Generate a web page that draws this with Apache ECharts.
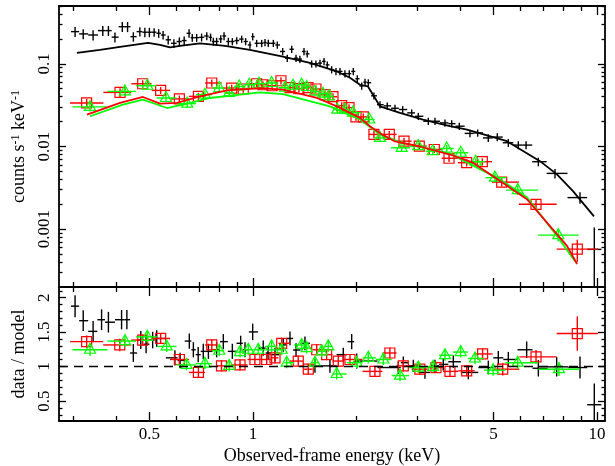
<!DOCTYPE html>
<html>
<head>
<meta charset="utf-8">
<script src="https://cdn.jsdelivr.net/npm/echarts@6/dist/echarts.min.js"></script>
<style>
  html, body { margin: 0; padding: 0; background: #fff; }
  #chart { width: 615px; height: 466px; }
</style>
</head>
<body>
<div id="chart"></div>
<script>
// ---- spectrum, top panel (energy keV / counts s-1 keV-1 / fractional error) ----
var blackE = [0.304,0.321,0.343,0.366,0.380,0.397,0.417,0.432,0.449,0.469,
  0.485,0.500,0.516,0.532,0.548,0.567,0.589,0.611,0.631,0.652,
  0.666,0.686,0.709,0.734,0.753,0.767,0.784,0.806,0.824,0.848,
  0.871,0.897,0.927,0.952,0.980,0.998,1.025,1.06,1.084,1.108,
  1.146,1.177,1.22,1.258,1.296,1.334,1.369,1.407,1.438,1.481,
  1.524,1.566,1.609,1.644,1.693,1.743,1.79,1.851,1.905,1.957,
  2.01,2.07,2.117,2.164,2.247,2.34,2.457,2.587,2.724,2.893,
  3.024,3.233,3.381,3.615,3.781,3.979,4.274,4.5,4.83,5.13,
  5.524,5.905,6.22,6.753,7.549,8.925,9.82];
var blackRate = [0.245,0.230,0.223,0.252,0.252,0.210,0.281,0.281,0.213,0.245,
  0.241,0.241,0.241,0.234,0.223,0.195,0.177,0.186,0.191,0.234,
  0.207,0.207,0.209,0.217,0.209,0.186,0.186,0.200,0.217,0.186,
  0.186,0.191,0.199,0.186,0.169,0.213,0.177,0.177,0.181,0.177,
  0.177,0.169,0.141,0.117,0.150,0.117,0.114,0.141,0.132,0.100,
  0.100,0.102,0.107,0.097,0.085,0.081,0.081,0.076,0.076,0.081,
  0.066,0.054,0.060,0.059,0.041,0.032,0.031,0.029,0.028,0.0255,
  0.0232,0.0202,0.0202,0.0193,0.0189,0.0176,0.0144,0.0146,0.0127,0.013,
  0.0111,0.0104,0.0104,0.00655,0.00473,0.00241,0.00057];
var blackErr = [0.14,0.14,0.14,0.14,0.14,0.14,0.14,0.14,0.13,0.13,
  0.13,0.13,0.12,0.12,0.12,0.12,0.12,0.12,0.12,0.12,
  0.11,0.11,0.11,0.11,0.11,0.11,0.11,0.11,0.11,0.11,
  0.1,0.1,0.1,0.1,0.1,0.1,0.1,0.1,0.1,0.1,
  0.1,0.1,0.1,0.1,0.1,0.1,0.1,0.1,0.1,0.1,
  0.1,0.1,0.1,0.1,0.1,0.1,0.1,0.1,0.1,0.1,
  0.1,0.1,0.1,0.1,0.1,0.1,0.1,0.1,0.1,0.1,
  0.1,0.1,0.1,0.1,0.1,0.1,0.1,0.1,0.11,0.11,
  0.11,0.11,0.11,0.12,0.13,0.16,0.84];

var redE = [0.3285,0.4107,0.478,0.539,0.611,0.694,0.759,0.867,0.937,1.025,
  1.069,1.136,1.206,1.281,1.36,1.445,1.524,1.619,1.708,1.811,
  1.902,1.993,2.093,2.247,2.49,2.748,3.044,3.365,3.714,4.18,
  4.641,5.284,6.649,8.765];
var redRate = [0.0336,0.0451,0.0574,0.0477,0.0376,0.0404,0.0586,0.0509,0.0496,0.0574,
  0.0558,0.0543,0.0624,0.0514,0.05,0.0514,0.0496,0.0423,0.04,0.0312,
  0.0295,0.0228,0.0228,0.014,0.014,0.0116,0.0101,0.0092,0.00721,0.00637,
  0.00655,0.00371,0.002,0.000574];
var redErr = [0.12,0.12,0.1,0.1,0.1,0.1,0.1,0.1,0.1,0.1,
  0.1,0.1,0.1,0.1,0.1,0.1,0.1,0.1,0.1,0.1,
  0.1,0.1,0.1,0.1,0.1,0.1,0.1,0.1,0.1,0.1,
  0.1,0.12,0.15,0.3];

var greenE = [0.336,0.4245,0.4929,0.5586,0.6442,0.7252,0.798,0.853,0.912,0.9755,
  1.041,1.133,1.239,1.307,1.385,1.433,1.514,1.598,1.664,1.758,
  1.851,1.953,2.178,2.34,2.706,3.024,3.33,3.657,4.017,4.441,
  5.052,5.882,7.718];
var greenRate = [0.0301,0.0464,0.0543,0.0386,0.033,0.0423,0.0509,0.0444,0.0532,0.0558,
  0.0574,0.0586,0.0514,0.0543,0.0558,0.0524,0.046,0.0435,0.0404,0.0279,
  0.0279,0.0257,0.0212,0.0127,0.00964,0.0101,0.00878,0.00946,0.0084,0.00655,
  0.0042,0.00297,0.000847];
var greenErr = [0.12,0.12,0.1,0.1,0.1,0.1,0.1,0.1,0.1,0.1,
  0.1,0.1,0.1,0.1,0.1,0.1,0.1,0.1,0.1,0.1,
  0.1,0.1,0.1,0.1,0.1,0.1,0.1,0.1,0.1,0.1,
  0.12,0.13,0.16];

// ---- folded models ----
var blackModelE = [0.3078,0.359,0.4107,0.4953,0.5367,0.5738,0.6135,0.7014,0.8291,0.98,
  1.222,1.464,1.754,1.914,2.047,2.159,2.34,2.675,3.12,3.738,
  4.19,5.473,6.829,7.648,8.516,9.80];
var blackModel = [0.1357,0.1475,0.1603,0.179,0.1695,0.158,0.1648,0.177,0.1648,0.1475,
  0.1225,0.1028,0.0808,0.0678,0.0558,0.0532,0.0306,0.0255,0.0212,0.0176,
  0.016,0.0116,0.00665,0.0046,0.00289,0.00143];
var redModelE = [0.3292,0.4107,0.4789,0.5367,0.6013,0.7014,0.8402,1.048,1.222,1.535,
  1.754,2.047,2.188,2.371,2.587,3.058,3.738,4.36,5.224,6.258,
  7.155,8.18,8.748];
var redModel = [0.0243,0.0336,0.0397,0.033,0.0336,0.0404,0.0477,0.0509,0.0486,0.0386,
  0.0306,0.0222,0.0176,0.014,0.0115,0.01,0.008,0.00637,0.00382,0.0023,
  0.0012,0.000629,0.000379];
var greenModelE = [0.336,0.4188,0.4789,0.5623,0.6442,0.7499,1.048,1.222,1.674,2.047,
  2.34,2.675,3.738,5.224,6.258,7.7,8.63];
var greenModel = [0.0232,0.0321,0.0368,0.0292,0.033,0.0386,0.0451,0.0431,0.0306,0.0212,
  0.014,0.0112,0.0082,0.004,0.00243,0.0008,0.00041];

// ---- data / model ratio, bottom panel ----
var blackRE = [0.304,0.321,0.343,0.363,0.380,0.415,0.430,0.449,0.472,0.489,
  0.511,0.525,0.593,0.614,0.653,0.671,0.693,0.717,0.742,0.784,
  0.820,0.871,0.921,0.948,0.998,1.071,1.106,1.159,1.225,1.281,
  1.334,1.416,1.514,1.674,1.83,1.936,2.002,2.645,2.735,2.924,
  3.162,3.381,3.574,3.822,4.226,4.831,5.166,5.524,6.245,6.753,
  7.634,8.925,9.82];
var blackR = [1.877,1.666,1.511,1.680,1.644,1.680,1.680,1.197,1.385,1.324,
  1.385,1.408,1.127,1.089,1.370,1.244,1.173,1.221,1.221,1.244,
  1.362,1.221,1.338,1.244,1.503,1.268,1.197,1.173,1.314,1.408,
  1.24,1.338,1.01,1.01,1.173,1.362,1.08,0.986,1.056,1.01,
  0.915,1.01,1.032,1.07,0.915,0.986,1.127,1.103,1.244,0.976,
  0.996,0.986,0.446];
var blackRErr = [0.16,0.15,0.15,0.15,0.15,0.14,0.14,0.13,0.13,0.13,
  0.12,0.12,0.11,0.11,0.11,0.11,0.11,0.11,0.11,0.11,
  0.11,0.11,0.11,0.11,0.12,0.11,0.1,0.1,0.1,0.1,
  0.1,0.1,0.1,0.1,0.1,0.11,0.11,0.09,0.09,0.09,
  0.09,0.09,0.09,0.09,0.1,0.1,0.1,0.11,0.12,0.12,
  0.14,0.16,0.31];

var redRE = [0.3285,0.41,0.478,0.539,0.611,0.694,0.759,0.81,0.917,1.013,
  1.096,1.159,1.212,1.354,1.448,1.532,1.637,1.77,1.914,2.262,
  2.5,2.735,3.055,3.404,3.738,4.18,4.65,5.32,6.649,8.765];
var redR = [1.362,1.314,1.385,1.408,1.103,0.915,1.314,1.01,1.024,1.103,
  1.103,1.127,1.338,1.08,0.962,1.244,1.173,1.08,1.103,0.93,
  1.197,1.01,0.962,0.986,0.93,0.939,1.183,0.962,1.141,1.479];
var redRErr = [0.09,0.09,0.08,0.08,0.08,0.08,0.08,0.08,0.08,0.08,
  0.08,0.08,0.08,0.08,0.08,0.08,0.08,0.08,0.08,0.08,
  0.08,0.08,0.08,0.08,0.08,0.08,0.08,0.09,0.1,0.25];

var greenRE = [0.336,0.4245,0.4929,0.561,0.641,0.725,0.798,0.853,0.917,0.969,
  1.036,1.133,1.212,1.253,1.385,1.433,1.514,1.584,1.655,1.751,
  2.002,2.164,2.393,2.675,3.024,3.34,3.615,4.017,4.42,4.99,
  5.88,7.75];
var greenR = [1.244,1.370,1.432,1.292,1.024,1.042,1.23,1.01,1.211,1.244,
  1.244,1.292,1.244,1.056,1.314,1.268,1.056,1.221,1.292,0.892,
  1.056,1.127,1.103,0.869,0.986,0.996,1.165,1.211,1.117,0.948,
  1.056,0.962];
var greenRErr = [0.09,0.09,0.08,0.08,0.08,0.08,0.08,0.08,0.08,0.08,
  0.08,0.08,0.08,0.08,0.08,0.08,0.08,0.08,0.08,0.08,
  0.08,0.08,0.08,0.08,0.08,0.08,0.08,0.08,0.08,0.08,
  0.09,0.1];

// ---- axis ticks ----
var xMajor = [0.5, 1, 5, 10];
var xMinor = [0.3,0.4,0.6,0.7,0.8,0.9,2,3,4,6,7,8,9];
var yTopMajor = [0.001, 0.01, 0.1];
var yTopMinor = [0.0003,0.0004,0.0005,0.0006,0.0007,0.0008,0.0009,
  0.002,0.003,0.004,0.005,0.006,0.007,0.008,0.009,
  0.02,0.03,0.04,0.05,0.06,0.07,0.08,0.09,0.2,0.3,0.4,0.5];
var yBotMajor = [0.5, 1, 1.5, 2];
var yBotMinor = [0.3,0.4,0.6,0.7,0.8,0.9,1.1,1.2,1.3,1.4,1.6,1.7,1.8,1.9,2.1];

var xMin = 0.273, xMax = 10.55;
var yTopMin = 2e-4, yTopMax = 0.5;
var yBotMin = 0.21, yBotMax = 2.155;

var FONT = 'Liberation Serif';

(function(){
  var chart = echarts.init(document.getElementById('chart'));

  // contiguous bins: edges halfway (in log) between neighbouring channels
  function edges(E) {
    return E.map(function(e, i){
      var lo = i > 0 ? Math.sqrt(E[i-1]*e) : null;
      var hi = i < E.length-1 ? Math.sqrt(e*E[i+1]) : null;
      if (lo === null) lo = e*e/hi;
      if (hi === null) hi = e*e/lo;
      return [lo, hi];
    });
  }
  function spec(E, V, F) {
    var ed = edges(E);
    return E.map(function(e, i){
      return [e, V[i], ed[i][0], ed[i][1], Math.max(V[i]*(1-F[i]), 1e-6), V[i]*(1+F[i])];
    });
  }
  function ratio(E, V, S) {
    var ed = edges(E);
    return E.map(function(e, i){
      return [e, V[i], ed[i][0], ed[i][1], V[i]-S[i], V[i]+S[i]];
    });
  }
  function pairs(E, V) { return E.map(function(e, i){ return [e, V[i]]; }); }

  function bars(color, marker) {
    return function(params, api) {
      var x = api.value(0), y = api.value(1);
      var p = api.coord([x, y]);
      var l = api.coord([api.value(2), y]);
      var r = api.coord([api.value(3), y]);
      var b = api.coord([x, api.value(4)]);
      var t = api.coord([x, api.value(5)]);
      var st = {stroke: color, lineWidth: 1.4};
      var kids = [
        {type:'line', shape:{x1:l[0], y1:l[1], x2:r[0], y2:r[1]}, style:st},
        {type:'line', shape:{x1:b[0], y1:b[1], x2:t[0], y2:t[1]}, style:st}
      ];
      if (marker === 'square') {
        kids.push({type:'rect', shape:{x:p[0]-5, y:p[1]-5, width:10, height:10},
          style:{fill:'none', stroke:color, lineWidth:1.2}});
      } else if (marker === 'triangle') {
        kids.push({type:'polygon', shape:{points:[[p[0], p[1]-6.5],[p[0]-5.5, p[1]+3.5],[p[0]+5.5, p[1]+3.5]]},
          style:{fill:'none', stroke:color, lineWidth:1.2}});
      }
      return {type:'group', children:kids};
    };
  }

  function xAx(grid, pos, vals, len, line, withLabel) {
    var ax = {
      type:'log', logBase:10, gridIndex:grid, position:pos, min:xMin, max:xMax,
      axisLine:{show:line, onZero:false, lineStyle:{color:'#000', width:1.8}},
      axisTick:{show:true, inside:true, length:len, customValues:vals, lineStyle:{color:'#000', width:1.3}},
      axisLabel:{show:false},
      splitLine:{show:false}
    };
    if (withLabel) {
      ax.axisLabel = {show:true, customValues:vals, margin:5, color:'#000',
        fontFamily:FONT, fontSize:17, formatter:function(v){ return String(v); }};
      ax.name = 'Observed-frame energy (keV)';
      ax.nameLocation = 'middle';
      ax.nameGap = 26;
      ax.nameTextStyle = {fontFamily:FONT, fontSize:18, color:'#000'};
    }
    return ax;
  }
  function yAx(grid, pos, type, mn, mx, vals, len, line) {
    return {
      type:type, logBase:10, gridIndex:grid, position:pos, min:mn, max:mx,
      axisLine:{show:line, onZero:false, lineStyle:{color:'#000', width:1.8}},
      axisTick:{show:true, inside:true, length:len, customValues:vals, lineStyle:{color:'#000', width:1.3}},
      axisLabel:{show:false},
      splitLine:{show:false}
    };
  }

  var yTopLabel = yAx(0, 'left', 'log', yTopMin, yTopMax, yTopMajor, 7, true);
  yTopLabel.axisLabel = {show:true, customValues:yTopMajor, rotate:90, margin:6, color:'#000',
    fontFamily:FONT, fontSize:17, formatter:function(v){ return String(v); }};
  yTopLabel.name = 'counts s{sup|-1} keV{sup|-1}';
  yTopLabel.nameLocation = 'middle';
  yTopLabel.nameRotate = 90;
  yTopLabel.nameGap = 30;
  yTopLabel.nameTextStyle = {fontFamily:FONT, fontSize:18, color:'#000',
    rich:{sup:{fontFamily:FONT, fontSize:12, color:'#000', verticalAlign:'top', padding:[0,0,6,0]}}};

  var yBotLabel = yAx(1, 'left', 'value', yBotMin, yBotMax, yBotMajor, 7, true);
  yBotLabel.axisLabel = {show:true, customValues:yBotMajor, rotate:90, margin:6, color:'#000',
    fontFamily:FONT, fontSize:17, formatter:function(v){ return String(v); }};
  yBotLabel.name = 'data / model';
  yBotLabel.nameLocation = 'middle';
  yBotLabel.nameRotate = 90;
  yBotLabel.nameGap = 30;
  yBotLabel.nameTextStyle = {fontFamily:FONT, fontSize:18, color:'#000'};

  var option = {
    animation: false,
    backgroundColor: '#fff',
    grid: [
      {left:59, right:10, top:6, height:281},
      {left:59, right:10, top:287, height:138}
    ],
    xAxis: [
      xAx(0, 'bottom', xMajor, 9, true, false),
      xAx(0, 'bottom', xMinor, 5, false, false),
      xAx(0, 'top', xMajor, 9, true, false),
      xAx(0, 'top', xMinor, 5, false, false),
      xAx(1, 'bottom', xMajor, 9, true, true),
      xAx(1, 'bottom', xMinor, 5, false, false),
      xAx(1, 'top', xMajor, 9, true, false),
      xAx(1, 'top', xMinor, 5, false, false)
    ],
    yAxis: [
      yTopLabel,
      yAx(0, 'left', 'log', yTopMin, yTopMax, yTopMinor, 3.5, false),
      yAx(0, 'right', 'log', yTopMin, yTopMax, yTopMajor, 7, true),
      yAx(0, 'right', 'log', yTopMin, yTopMax, yTopMinor, 3.5, false),
      yBotLabel,
      yAx(1, 'left', 'value', yBotMin, yBotMax, yBotMinor, 3.5, false),
      yAx(1, 'right', 'value', yBotMin, yBotMax, yBotMajor, 7, true),
      yAx(1, 'right', 'value', yBotMin, yBotMax, yBotMinor, 3.5, false)
    ],
    series: [
      {type:'custom', xAxisIndex:0, yAxisIndex:0, clip:true, encode:{x:0, y:1},
        renderItem:bars('#000', null), data:spec(blackE, blackRate, blackErr)},
      {type:'custom', xAxisIndex:0, yAxisIndex:0, clip:true, encode:{x:0, y:1},
        renderItem:bars('#ff0000', 'square'), data:spec(redE, redRate, redErr)},
      {type:'custom', xAxisIndex:0, yAxisIndex:0, clip:true, encode:{x:0, y:1},
        renderItem:bars('#00ff00', 'triangle'), data:spec(greenE, greenRate, greenErr)},
      {type:'line', xAxisIndex:0, yAxisIndex:0, showSymbol:false, clip:true,
        lineStyle:{color:'#000', width:1.8}, data:pairs(blackModelE, blackModel)},
      {type:'line', xAxisIndex:0, yAxisIndex:0, showSymbol:false, clip:true,
        lineStyle:{color:'#00ff00', width:1.8}, data:pairs(greenModelE, greenModel)},
      {type:'line', xAxisIndex:0, yAxisIndex:0, showSymbol:false, clip:true,
        lineStyle:{color:'#ff0000', width:1.8}, data:pairs(redModelE, redModel)},

      {type:'line', xAxisIndex:4, yAxisIndex:4, showSymbol:false,
        lineStyle:{color:'#000', width:1.5, type:[9,6]}, data:[[xMin, 1], [xMax, 1]]},
      {type:'custom', xAxisIndex:4, yAxisIndex:4, clip:true, encode:{x:0, y:1},
        renderItem:bars('#000', null), data:ratio(blackRE, blackR, blackRErr)},
      {type:'custom', xAxisIndex:4, yAxisIndex:4, clip:true, encode:{x:0, y:1},
        renderItem:bars('#ff0000', 'square'), data:ratio(redRE, redR, redRErr)},
      {type:'custom', xAxisIndex:4, yAxisIndex:4, clip:true, encode:{x:0, y:1},
        renderItem:bars('#00ff00', 'triangle'), data:ratio(greenRE, greenR, greenRErr)}
    ]
  };

  chart.setOption(option);
})();
</script>
</body>
</html>
